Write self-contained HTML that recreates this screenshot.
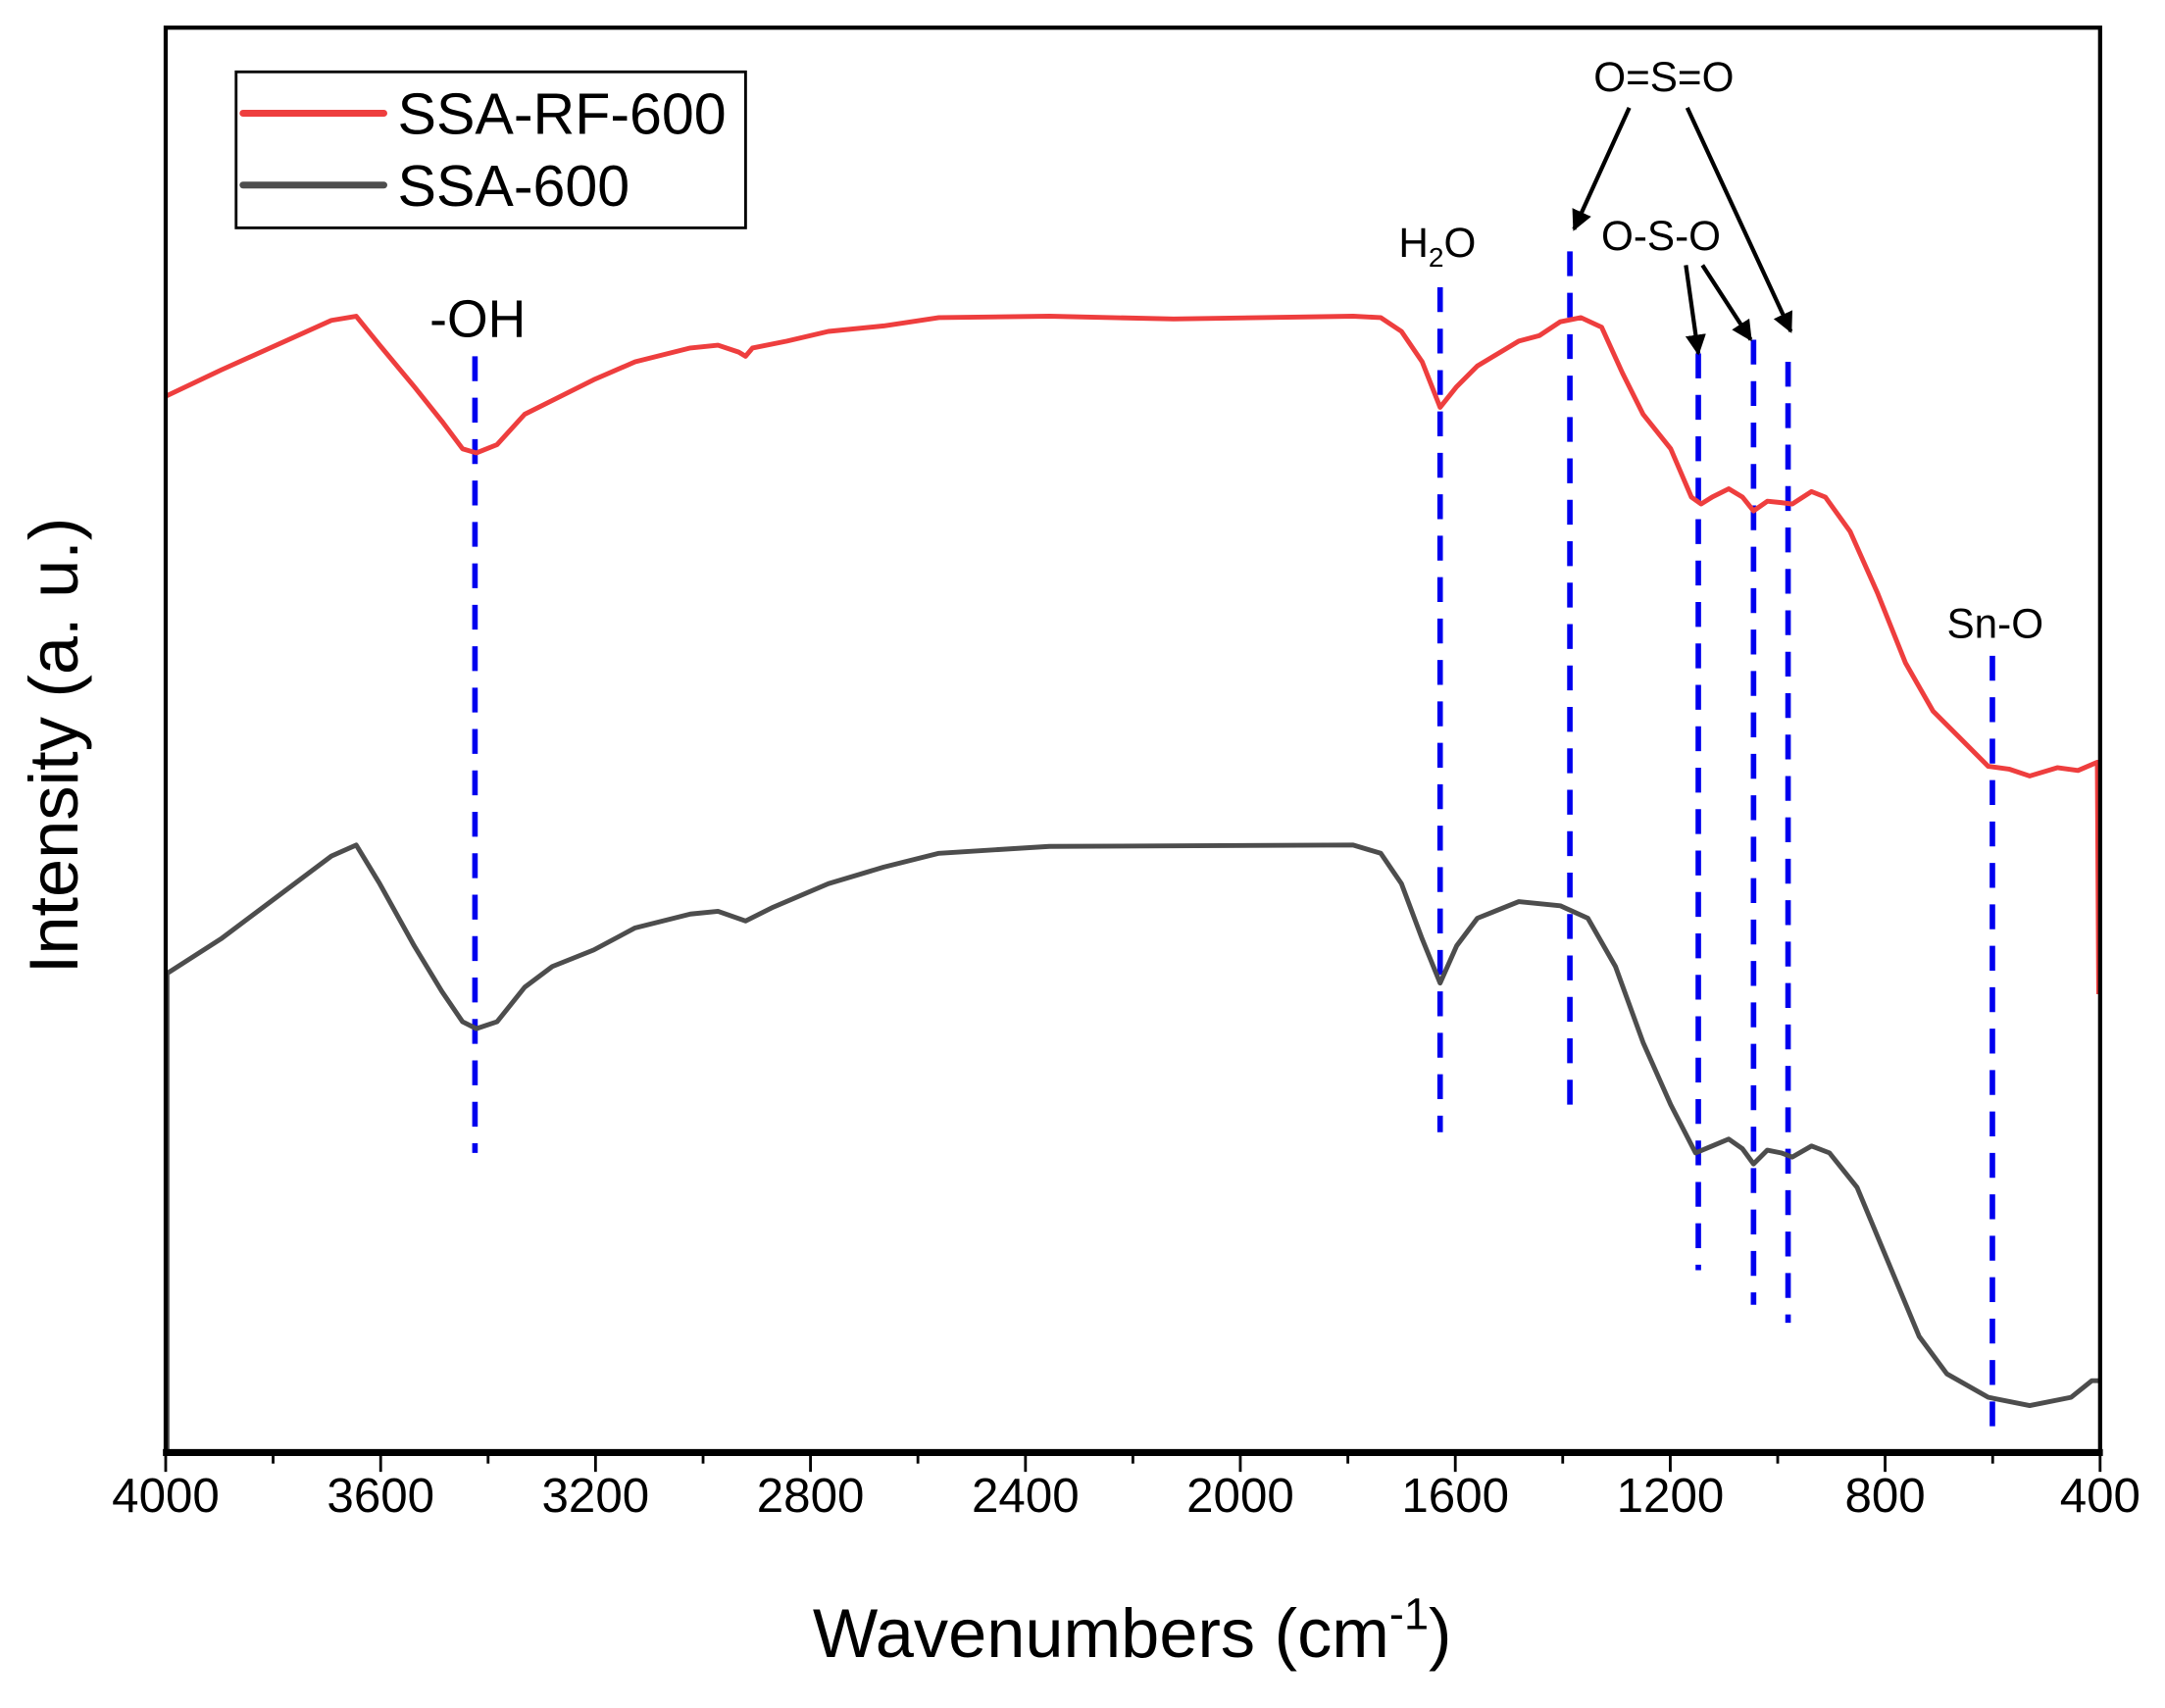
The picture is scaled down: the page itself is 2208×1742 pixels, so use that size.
<!DOCTYPE html>
<html><head><meta charset="utf-8"><style>html,body{margin:0;padding:0;background:#fff}svg{display:block}</style></head>
<body>
<svg width="2208" height="1742" viewBox="0 0 1568 1237" xmlns="http://www.w3.org/2000/svg" font-family="'Liberation Sans', sans-serif">
<defs><marker id="ah" viewBox="0 0 10 10" refX="9" refY="5" markerWidth="5" markerHeight="5" orient="auto"><path d="M0,0 L10,5 L0,10 z" fill="#000"/></marker></defs>
<rect x="0" y="0" width="1568" height="1237" fill="#fff"/>
<g stroke="#0000ee" stroke-width="4" stroke-dasharray="18,12" fill="none">
<line x1="344" y1="258" x2="344" y2="835"/>
<line x1="1043" y1="208" x2="1043" y2="820"/>
<line x1="1137" y1="182" x2="1137" y2="800"/>
<line x1="1230" y1="256" x2="1230" y2="920"/>
<line x1="1270" y1="246" x2="1270" y2="945"/>
<line x1="1295" y1="262" x2="1295" y2="958"/>
<line x1="1443" y1="475" x2="1443" y2="1035"/>
</g>
<polyline fill="none" stroke="#ee3e3e" stroke-width="3.5" stroke-linejoin="round" points="120,287 160,268 200,250 240,232 258,229 275,250 300,280 320,305 335,325 345,328 360,322 380,300 400,290 430,275 460,262 500,252 520,250 535,255 540,258 545,252 570,247 600,240 640,236 680,230 760,229 850,231 980,229 1000,230 1015,240 1030,262 1043,295 1055,280 1070,265 1100,247 1115,243 1130,233 1145,230 1160,237 1175,270 1190,300 1210,325 1225,360 1232,365 1240,360 1252,354 1262,360 1270,370 1280,363 1290,364 1298,365 1312,356 1322,360 1340,385 1360,430 1380,480 1400,515 1420,535 1440,555 1455,557 1470,562 1490,556 1505,558 1519,552 1520,720"/>
<polyline fill="none" stroke="#4d4d4d" stroke-width="3.5" stroke-linejoin="round" points="121,1050 121,705 160,680 200,650 240,620 258,612 275,640 300,685 320,718 335,740 345,745 360,740 380,715 400,700 430,688 460,672 500,662 520,660 540,667 560,657 600,640 640,628 680,618 760,613 980,612 1000,618 1015,640 1030,680 1043,712 1055,685 1070,665 1100,653 1130,656 1150,665 1170,700 1190,755 1210,800 1228,835 1240,830 1252,825 1262,832 1270,843 1280,833 1290,835 1298,838 1312,830 1325,835 1345,860 1370,920 1390,968 1410,995 1440,1012 1470,1018 1500,1012 1515,1000 1520,1000"/>
<rect x="120" y="20" width="1401" height="1032" fill="none" stroke="#000" stroke-width="3"/>
<line x1="118" y1="1052" x2="1523" y2="1052" stroke="#000" stroke-width="5"/>
<g stroke="#000" stroke-width="2">
<line x1="120" y1="1052" x2="120" y2="1066"/><line x1="275.7" y1="1052" x2="275.7" y2="1066"/><line x1="431.3" y1="1052" x2="431.3" y2="1066"/><line x1="587" y1="1052" x2="587" y2="1066"/><line x1="742.7" y1="1052" x2="742.7" y2="1066"/><line x1="898.3" y1="1052" x2="898.3" y2="1066"/><line x1="1054" y1="1052" x2="1054" y2="1066"/><line x1="1209.7" y1="1052" x2="1209.7" y2="1066"/><line x1="1365.3" y1="1052" x2="1365.3" y2="1066"/><line x1="1521" y1="1052" x2="1521" y2="1066"/>
<line x1="197.8" y1="1052" x2="197.8" y2="1060"/><line x1="353.5" y1="1052" x2="353.5" y2="1060"/><line x1="509.2" y1="1052" x2="509.2" y2="1060"/><line x1="664.8" y1="1052" x2="664.8" y2="1060"/><line x1="820.5" y1="1052" x2="820.5" y2="1060"/><line x1="976.2" y1="1052" x2="976.2" y2="1060"/><line x1="1131.8" y1="1052" x2="1131.8" y2="1060"/><line x1="1287.5" y1="1052" x2="1287.5" y2="1060"/><line x1="1443.2" y1="1052" x2="1443.2" y2="1060"/>
</g>
<g font-size="35" text-anchor="middle" fill="#000">
<text x="120" y="1095">4000</text><text x="275.7" y="1095">3600</text><text x="431.3" y="1095">3200</text><text x="587" y="1095">2800</text><text x="742.7" y="1095">2400</text><text x="898.3" y="1095">2000</text><text x="1054" y="1095">1600</text><text x="1209.7" y="1095">1200</text><text x="1365.3" y="1095">800</text><text x="1521" y="1095">400</text>
</g>
<text x="820" y="1200" font-size="50" text-anchor="middle">Wavenumbers (cm<tspan font-size="32" dy="-20">-1</tspan><tspan dy="20">)</tspan></text>
<text transform="translate(56,540) rotate(-90)" font-size="50" text-anchor="middle">Intensity (a. u.)</text>
<rect x="171" y="52" width="369" height="113" fill="#fff" stroke="#000" stroke-width="2"/>
<line x1="176" y1="82" x2="278" y2="82" stroke="#ee3e3e" stroke-width="5" stroke-linecap="round"/>
<line x1="176" y1="134" x2="278" y2="134" stroke="#4d4d4d" stroke-width="5" stroke-linecap="round"/>
<text x="288" y="97" font-size="42">SSA-RF-600</text>
<text x="288" y="149" font-size="42">SSA-600</text>
<text x="346" y="244" font-size="38" text-anchor="middle">-OH</text>
<text x="1041" y="186" font-size="30" text-anchor="middle">H<tspan font-size="20" dy="7">2</tspan><tspan dy="-7">O</tspan></text>
<text x="1205" y="66" font-size="30" text-anchor="middle">O=S=O</text>
<text x="1203" y="181" font-size="30" text-anchor="middle">O-S-O</text>
<text x="1445" y="462" font-size="30" text-anchor="middle">Sn-O</text>
<g stroke="#000" stroke-width="3" marker-end="url(#ah)">
<line x1="1180" y1="78" x2="1140" y2="166"/>
<line x1="1222" y1="78" x2="1297" y2="240"/>
<line x1="1221" y1="192" x2="1230" y2="256"/>
<line x1="1233" y1="192" x2="1268" y2="246"/>
</g>
</svg>
</body></html>
